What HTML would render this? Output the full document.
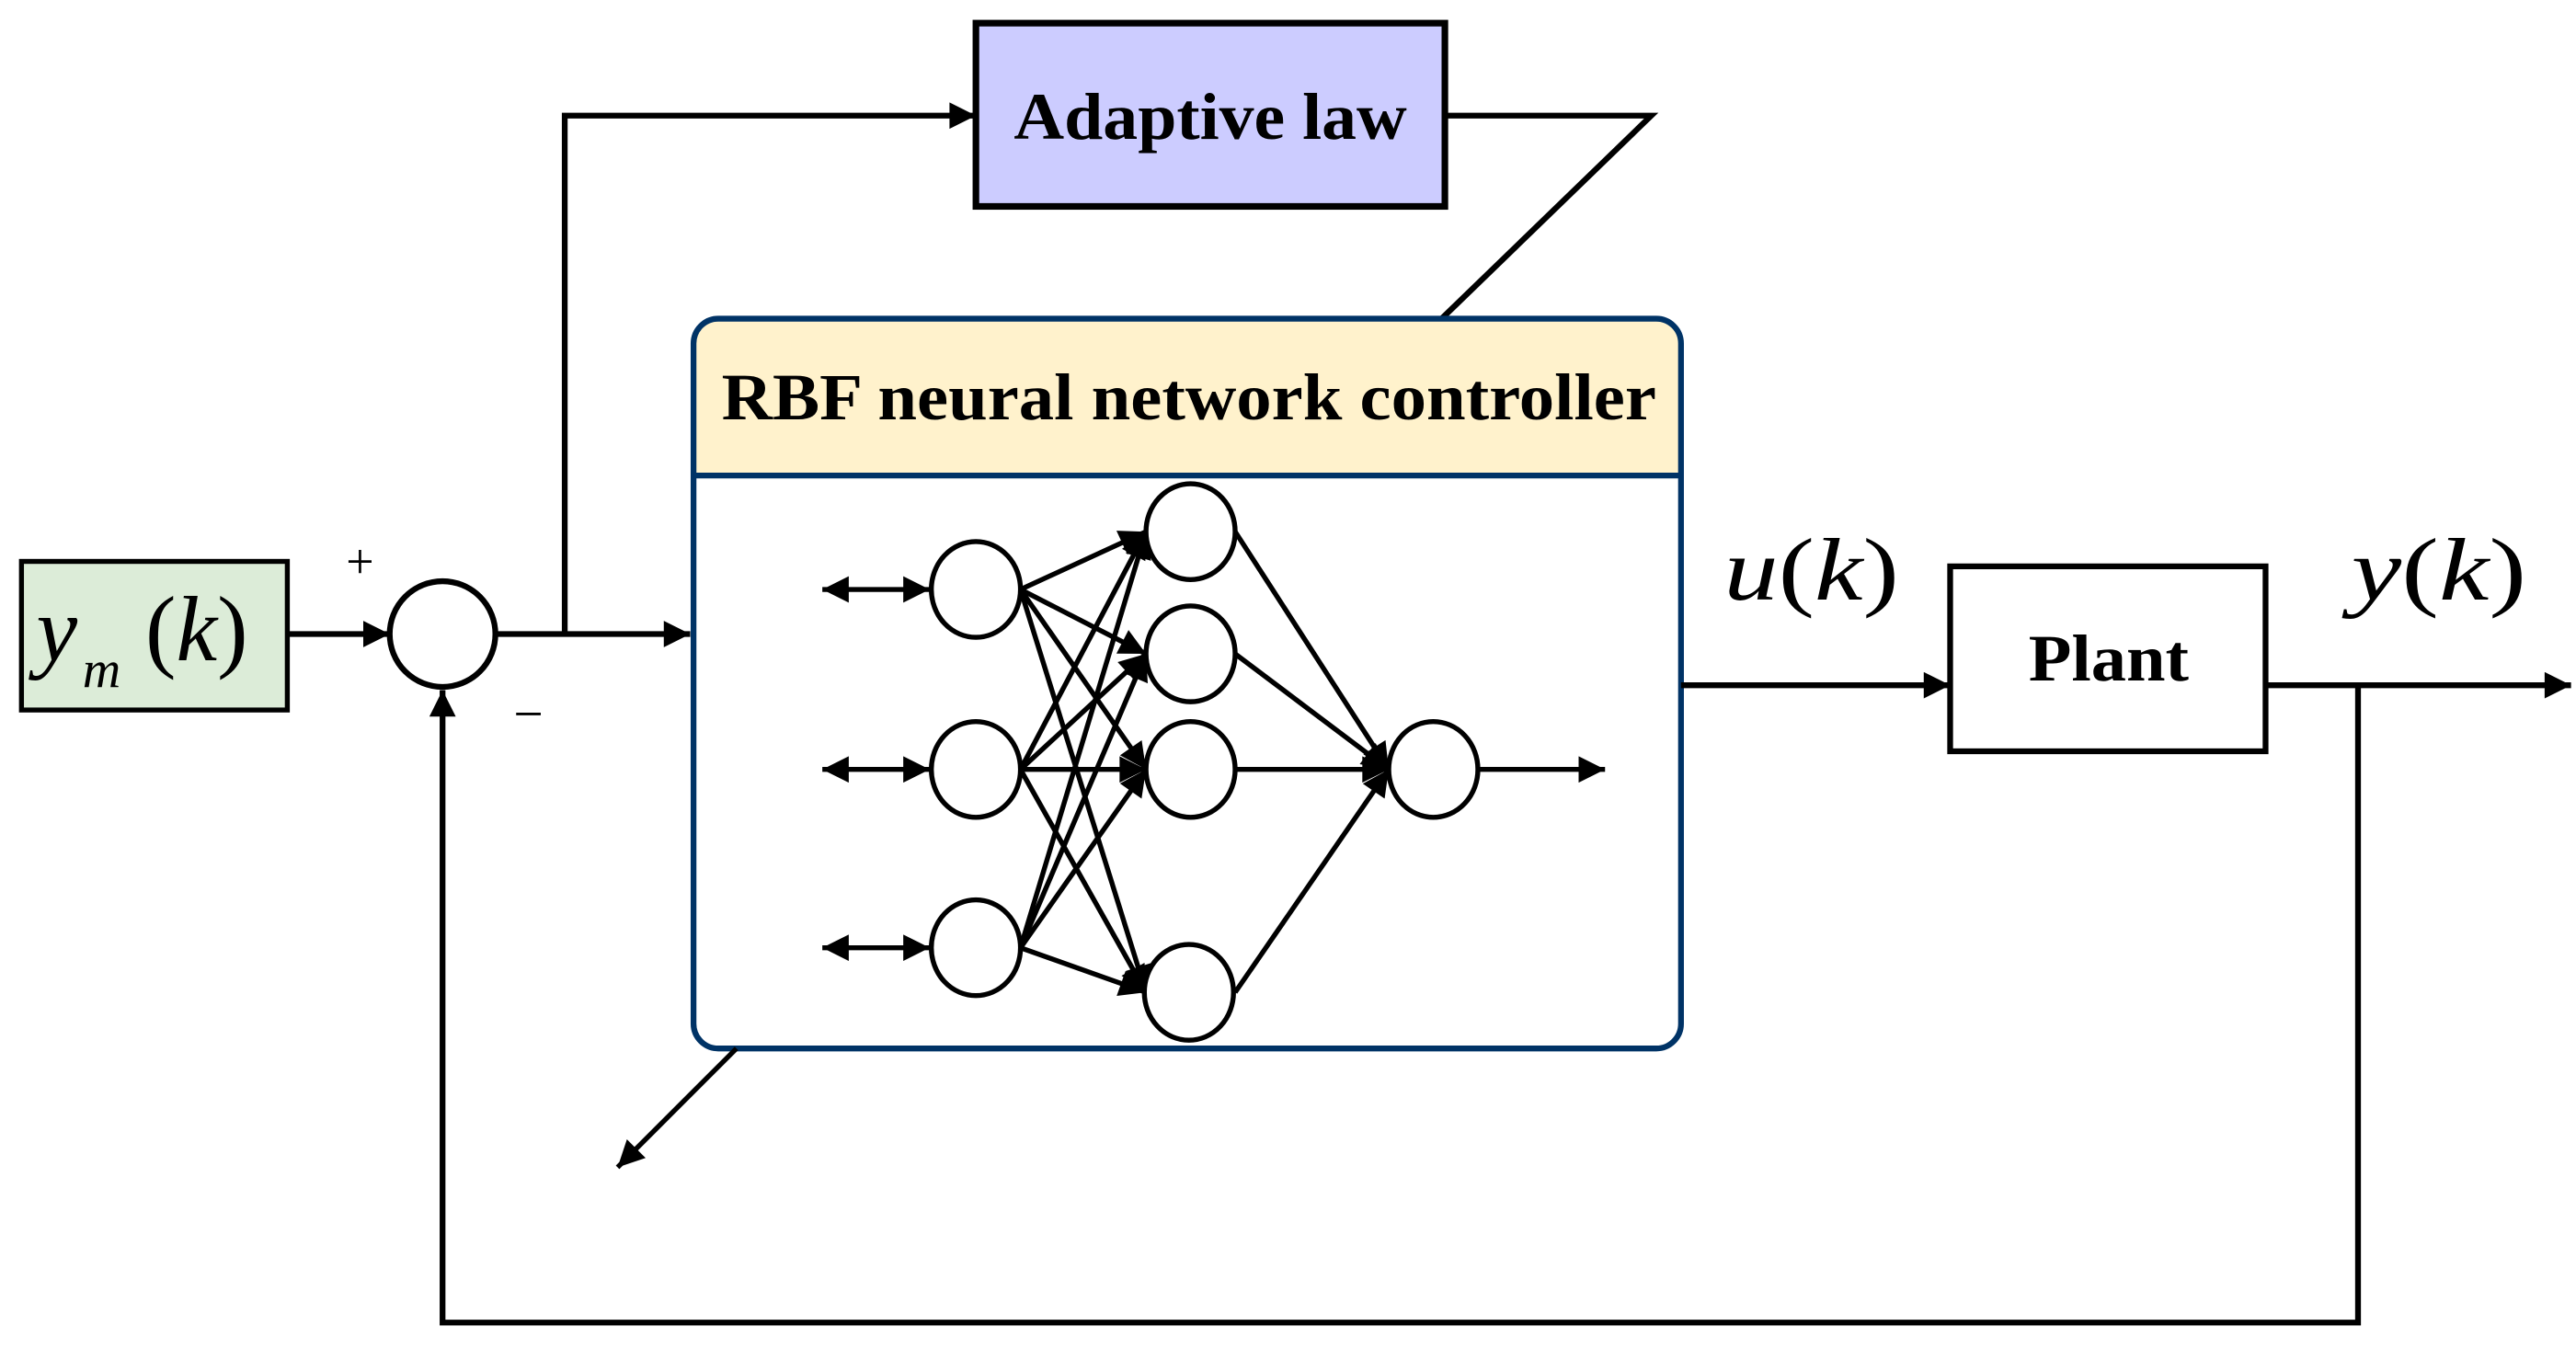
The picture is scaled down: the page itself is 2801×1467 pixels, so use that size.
<!DOCTYPE html>
<html><head><meta charset="utf-8"><style>
html,body{margin:0;padding:0;background:#fff;}
svg{display:block;}
</style></head><body>
<svg width="2801" height="1467" viewBox="0 0 1560 817" xmlns="http://www.w3.org/2000/svg">
<defs>
<marker id="b" viewBox="0 0 10 10" markerWidth="20" markerHeight="16" refX="10" refY="5" orient="auto-start-reverse" markerUnits="userSpaceOnUse"><path d="M0,0 L10,5 L0,10 z" fill="#000"/></marker>
</defs>
<g fill="none" stroke="#000" stroke-width="3.5">
<rect x="13" y="340" width="161" height="90" fill="#dcecd8" stroke-width="3"/>
<circle cx="268" cy="384" r="32" fill="#fff"/>
<line x1="174" y1="384" x2="236" y2="384" marker-end="url(#b)"/>
<line x1="300" y1="384" x2="418" y2="384" marker-end="url(#b)"/>
<polyline points="342,384 342,70 591,70" marker-end="url(#b)"/>
<rect x="591" y="14" width="284" height="111" fill="#ccccff" stroke-width="4"/>
<polyline points="875,70 1000,70 873,193"/>
<path d="M435,193 H1003 Q1018,193 1018,208 V288 H420 V208 Q420,193 435,193 z" fill="#fff2cc" stroke="none"/>
<rect x="420" y="193" width="598" height="442" rx="15" stroke="#003366" stroke-width="3.5"/>
<line x1="420" y1="288" x2="1018" y2="288" stroke="#003366" stroke-width="3.5"/>
<line x1="446" y1="635" x2="374" y2="707" stroke-width="3" marker-end="url(#b)"/>
<g stroke-width="3">
<line x1="498" y1="357" x2="563" y2="357" marker-start="url(#b)" marker-end="url(#b)"/>
<line x1="498" y1="466" x2="563" y2="466" marker-start="url(#b)" marker-end="url(#b)"/>
<line x1="498" y1="574" x2="563" y2="574" marker-start="url(#b)" marker-end="url(#b)"/>
<line x1="618" y1="357" x2="694" y2="322" marker-end="url(#b)"/>
<line x1="618" y1="357" x2="694" y2="396" marker-end="url(#b)"/>
<line x1="618" y1="357" x2="694" y2="466" marker-end="url(#b)"/>
<line x1="618" y1="357" x2="694" y2="601" marker-end="url(#b)"/>
<line x1="618" y1="466" x2="694" y2="322" marker-end="url(#b)"/>
<line x1="618" y1="466" x2="694" y2="396" marker-end="url(#b)"/>
<line x1="618" y1="466" x2="694" y2="466" marker-end="url(#b)"/>
<line x1="618" y1="466" x2="694" y2="601" marker-end="url(#b)"/>
<line x1="618" y1="574" x2="694" y2="322" marker-end="url(#b)"/>
<line x1="618" y1="574" x2="694" y2="396" marker-end="url(#b)"/>
<line x1="618" y1="574" x2="694" y2="466" marker-end="url(#b)"/>
<line x1="618" y1="574" x2="694" y2="601" marker-end="url(#b)"/>
<line x1="748" y1="322" x2="841" y2="466" marker-end="url(#b)"/>
<line x1="748" y1="396" x2="841" y2="466" marker-end="url(#b)"/>
<line x1="748" y1="466" x2="841" y2="466" marker-end="url(#b)"/>
<line x1="748" y1="601" x2="841" y2="466" marker-end="url(#b)"/>
<line x1="895" y1="466" x2="972" y2="466" marker-end="url(#b)"/>
<g fill="#fff">
<ellipse cx="591" cy="357" rx="27" ry="29"/>
<ellipse cx="591" cy="466" rx="27" ry="29"/>
<ellipse cx="591" cy="574" rx="27" ry="29"/>
<ellipse cx="721" cy="322" rx="27" ry="29"/>
<ellipse cx="721" cy="396" rx="27" ry="29"/>
<ellipse cx="721" cy="466" rx="27" ry="29"/>
<ellipse cx="720" cy="601" rx="27" ry="29"/>
<ellipse cx="868" cy="466" rx="27" ry="29"/>
</g>
</g>
<line x1="1018" y1="415" x2="1181" y2="415" marker-end="url(#b)"/>
<rect x="1181" y="343" width="191" height="112" fill="#fff"/>
<line x1="1372" y1="415" x2="1557" y2="415" marker-end="url(#b)"/>
<polyline points="1428,415 1428,801 268,801 268,418" marker-end="url(#b)"/>
</g>
<g font-family="Liberation Serif, serif" fill="#000">
<text x="733" y="84" font-size="40" font-weight="bold" text-anchor="middle" textLength="238" lengthAdjust="spacingAndGlyphs">Adaptive law</text>
<text x="720" y="254" font-size="40" font-weight="bold" text-anchor="middle" textLength="566" lengthAdjust="spacingAndGlyphs">RBF neural network controller</text>
<text x="1277" y="412" font-size="40" font-weight="bold" text-anchor="middle" textLength="97" lengthAdjust="spacingAndGlyphs">Plant</text>
<text x="22" y="400" font-size="56" font-style="italic">y</text>
<text x="50" y="416" font-size="32" font-style="italic">m</text>
<text x="88" y="400" font-size="56">(<tspan font-style="italic">k</tspan>)</text>
<text x="1044" y="363" font-size="54" textLength="106" lengthAdjust="spacingAndGlyphs"><tspan font-style="italic">u</tspan>(<tspan font-style="italic">k</tspan>)</text>
<text x="1424" y="363" font-size="54" textLength="106" lengthAdjust="spacingAndGlyphs"><tspan font-style="italic">y</tspan>(<tspan font-style="italic">k</tspan>)</text>
<text x="218" y="350" font-size="30" text-anchor="middle">+</text>
<text x="320" y="443" font-size="32" text-anchor="middle">−</text>
</g>
</svg>
</body></html>
